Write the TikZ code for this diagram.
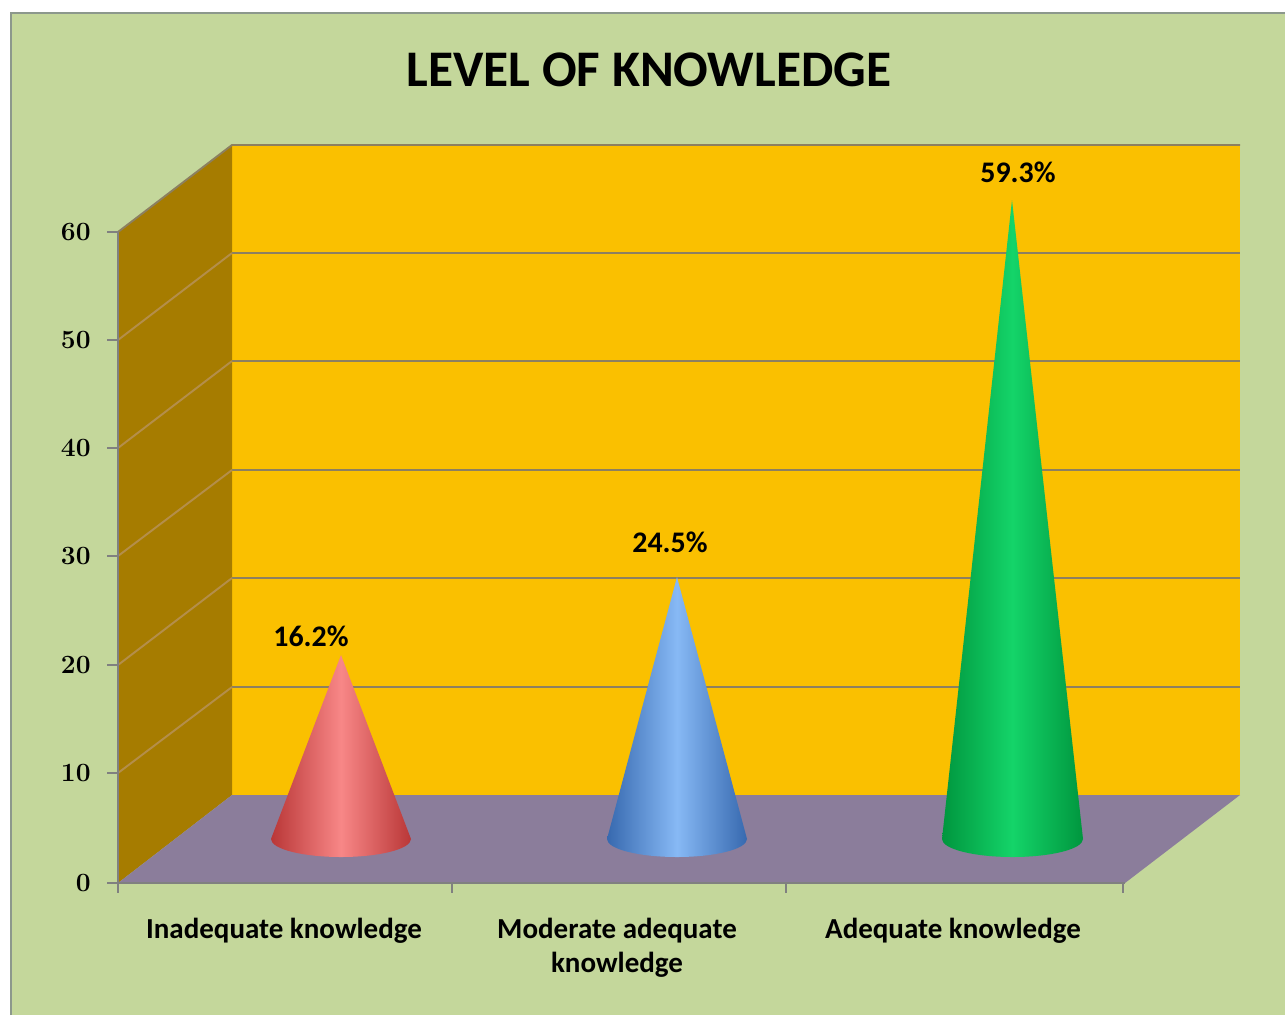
\documentclass[tikz,border=0pt]{standalone}
\usepackage{fontspec}
\newfontfamily\calfont{Carlito}
\usepackage{tikz}
\usetikzlibrary{positioning}
\definecolor{chartbg}{RGB}{196,215,155}
\definecolor{frameline}{RGB}{140,152,140}
\definecolor{wallyellow}{RGB}{250,192,0}
\definecolor{sidewall}{RGB}{166,124,0}
\definecolor{floorgray}{RGB}{139,125,155}
\definecolor{gridback}{RGB}{140,128,96}
\definecolor{gridside}{RGB}{180,142,74}
\definecolor{axisgray}{RGB}{128,128,128}
\definecolor{reddark}{RGB}{185,55,55}
\definecolor{redlight}{RGB}{248,135,135}
\definecolor{bluedark}{RGB}{55,105,175}
\definecolor{bluelight}{RGB}{135,185,245}
\definecolor{greendark}{RGB}{0,150,62}
\definecolor{greenlight}{RGB}{20,212,105}
\tikzstyle{chart-title}=[font=\calfont\bfseries\fontsize{29.2}{34}\selectfont, inner sep=0pt, anchor=base]
\tikzstyle{axis-num}=[font=\bfseries\fontsize{15}{17}\selectfont, inner sep=0pt, anchor=east]
\tikzstyle{cat-label}=[font=\calfont\bfseries\fontsize{16.5}{19.3}\selectfont, align=center, inner sep=0pt, anchor=base]
\tikzstyle{value-label}=[font=\calfont\bfseries\fontsize{17}{19}\selectfont, inner sep=0pt, anchor=base]
\tikzstyle{grid-back}=[draw=gridback, line width=1.1pt]
\tikzstyle{grid-side}=[draw=gridside, line width=1.1pt]
\tikzstyle{axis-line}=[draw=axisgray, line width=0.9pt]
\tikzstyle{red-cone}=[left color=reddark, right color=reddark, middle color=redlight]
\tikzstyle{blue-cone}=[left color=bluedark, right color=bluedark, middle color=bluelight]
\tikzstyle{green-cone}=[left color=greendark, right color=greendark, middle color=greenlight]

\begin{document}
\begin{tikzpicture}[x=0.02cm, y=-0.02cm]
    \useasboundingbox (0,0) rectangle (1285,1015);
    \fill[white] (0,0) rectangle (1285,1015);
    \fill[chartbg] (11,13) rectangle (1285,1015);
    \draw[frameline, line width=1pt] (11,1015) -- (11,13) -- (1285,13);

    \node (title) [chart-title] at (649,86) {LEVEL OF KNOWLEDGE};

    % walls and floor
    \fill[wallyellow] (232,145) rectangle (1240,795);
    \fill[sidewall] (118,232) -- (232,145) -- (232,795) -- (118,883) -- cycle;
    \fill[floorgray] (118,883) -- (232,795) -- (1240,795) -- (1125,883) -- cycle;

    % gridlines
    \draw[grid-back] (232,687) -- (1240,687);
    \draw[grid-back] (232,578) -- (1240,578);
    \draw[grid-back] (232,470) -- (1240,470);
    \draw[grid-back] (232,361) -- (1240,361);
    \draw[grid-back] (232,253) -- (1240,253);
    \draw[grid-back] (118,232) -- (232,145) -- (1240,145);
    \draw[grid-side] (118,773) -- (232,687);
    \draw[grid-side] (118,665) -- (232,578);
    \draw[grid-side] (118,556) -- (232,470);
    \draw[grid-side] (118,448) -- (232,361);
    \draw[grid-side] (118,340) -- (232,253);

    % axes
    \draw[axis-line] (118,232) -- (118,883) -- (1125,883);
    \draw[axis-line] (107,883) -- (118,883);
    \draw[axis-line] (107,773) -- (118,773);
    \draw[axis-line] (107,665) -- (118,665);
    \draw[axis-line] (107,556) -- (118,556);
    \draw[axis-line] (107,448) -- (118,448);
    \draw[axis-line] (107,340) -- (118,340);
    \draw[axis-line] (107,232) -- (118,232);
    \draw[axis-line] (118,883) -- (118,893);
    \draw[axis-line] (452,883) -- (452,893);
    \draw[axis-line] (786,883) -- (786,893);
    \draw[axis-line] (1123,883) -- (1123,893);

    \node (num0) [axis-num] at (91,883) {0};
    \node (num10) [axis-num] at (91,773) {10};
    \node (num20) [axis-num] at (91,665) {20};
    \node (num30) [axis-num] at (91,556) {30};
    \node (num40) [axis-num] at (91,448) {40};
    \node (num50) [axis-num] at (91,340) {50};
    \node (num60) [axis-num] at (91,232) {60};

    % cones
    \path[red-cone] (341,655) -- (271,839) arc[start angle=180, end angle=0, x radius=70, y radius=18] -- cycle;
    \path[blue-cone] (677,577) -- (607,839) arc[start angle=180, end angle=0, x radius=70, y radius=18] -- cycle;
    \path[green-cone] (1012,200) -- (942,839) arc[start angle=180, end angle=0, x radius=70.5, y radius=18] -- cycle;

    \node (val-low) [value-label] at (311,646) {16.2\%};
    \node (val-mid) [value-label] at (670,552) {24.5\%};
    \node (val-high) [value-label] at (1018,182) {59.3\%};

    \node (cat-low) [cat-label] at (284,938) {Inadequate knowledge};
    \node (cat-mid) [cat-label] at (617,972) {Moderate adequate\\knowledge};
    \node (cat-high) [cat-label] at (953,938) {Adequate knowledge};
\end{tikzpicture}
\end{document}
